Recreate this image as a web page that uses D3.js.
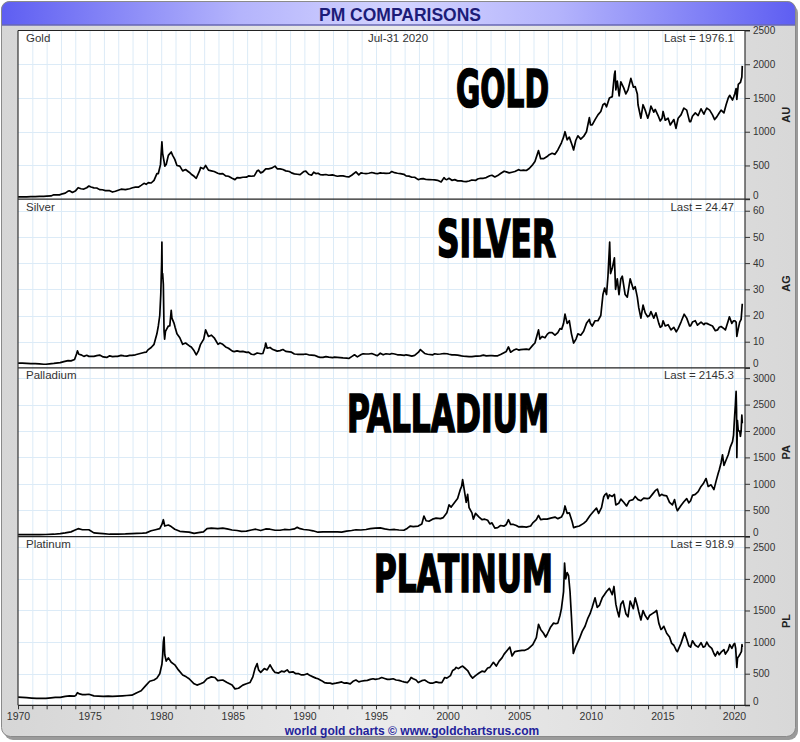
<!DOCTYPE html>
<html><head><meta charset="utf-8">
<script src="https://cdn.jsdelivr.net/npm/d3@7"></script>
<style>html,body{margin:0;padding:0;background:#fff;}svg{display:block;font-family:"Liberation Sans",Arial,sans-serif;}</style>
</head><body>
<svg id="c" width="800" height="742"></svg>
<script>
// ---------- DATA ----------
const titleText = "PM COMPARISONS";
const dateText = "Jul-31 2020";
const footerText = "world gold charts \u00a9 www.goldchartsrus.com";
const seriesNames = ["Gold", "Silver", "Palladium", "Platinum"];
const bigLabels = ["GOLD", "SILVER", "PALLADIUM", "PLATINUM"];
const axisCodes = ["AU", "AG", "PA", "PL"];
const lastValues = ["1976.1", "24.47", "2145.3", "918.9"];
const yMax = [2500, 64.4, 3195, 2669];
const goldTicks = [0, 500, 1000, 1500, 2000, 2500];
const silverTicks = [0, 10, 20, 30, 40, 50, 60];
const palladiumTicks = [0, 500, 1000, 1500, 2000, 2500, 3000];
const platinumTicks = [0, 500, 1000, 1500, 2000, 2500];
const yearLabels = [1970, 1975, 1980, 1985, 1990, 1995, 2000, 2005, 2010, 2015, 2020];

const gold = [[1970.0,35],[1970.3,35.5],[1970.6,35.8],[1970.9,37.4],[1971.2,38.5],[1971.5,40.5],[1971.8,42.5],[1972.0,45],
[1972.3,48],[1972.5,65],[1972.7,66],[1972.9,64],[1973.1,80],[1973.3,90],[1973.5,120],[1973.6,125],[1973.8,100],[1974.0,120],
[1974.2,170],[1974.4,155],[1974.6,150],[1974.8,170],[1974.95,195],[1975.1,180],[1975.3,168],[1975.5,166],[1975.7,142],[1975.9,140],
[1976.1,128],[1976.4,126],[1976.6,106],[1976.8,118],[1977.0,133],[1977.2,148],[1977.5,143],[1977.8,155],[1978.0,170],
[1978.2,180],[1978.4,178],[1978.6,205],[1978.8,235],[1978.95,220],[1979.1,245],[1979.3,240],[1979.5,280],[1979.7,380],[1979.8,380],[1979.95,512],
[1980.05,850],[1980.1,680],[1980.2,560],[1980.25,490],[1980.35,515],[1980.5,650],[1980.7,700],[1980.8,650],[1980.95,590],
[1981.1,500],[1981.3,490],[1981.5,420],[1981.7,440],[1981.95,400],[1982.1,370],[1982.3,340],[1982.45,310],[1982.7,430],[1982.75,470],[1982.95,450],
[1983.1,500],[1983.3,430],[1983.5,420],[1983.7,410],[1983.95,385],[1984.1,375],[1984.3,380],[1984.5,345],[1984.7,340],[1984.95,310],
[1985.15,290],[1985.3,320],[1985.5,315],[1985.7,325],[1985.95,326],[1986.1,345],[1986.3,340],[1986.5,345],[1986.7,420],[1986.8,430],[1986.95,390],
[1987.1,405],[1987.3,450],[1987.5,450],[1987.7,460],[1987.95,490],[1988.1,450],[1988.3,450],[1988.5,440],[1988.7,420],[1988.95,410],
[1989.1,390],[1989.3,375],[1989.5,370],[1989.7,365],[1989.95,410],[1990.1,415],[1990.3,370],[1990.5,355],[1990.65,400],[1990.8,380],[1990.95,385],
[1991.1,365],[1991.3,360],[1991.5,366],[1991.7,355],[1991.95,360],[1992.1,352],[1992.3,340],[1992.5,345],[1992.7,345],[1992.95,333],
[1993.1,330],[1993.3,355],[1993.6,405],[1993.8,360],[1993.95,390],[1994.1,385],[1994.3,380],[1994.5,385],[1994.7,395],[1994.95,383],
[1995.1,378],[1995.3,390],[1995.5,385],[1995.7,383],[1995.95,387],[1996.1,410],[1996.3,393],[1996.5,385],[1996.7,380],[1996.95,369],
[1997.1,345],[1997.3,342],[1997.5,325],[1997.7,325],[1997.95,290],[1998.1,300],[1998.3,305],[1998.5,292],[1998.7,290],[1998.95,288],
[1999.1,285],[1999.3,280],[1999.55,255],[1999.75,320],[1999.85,295],[1999.95,290],[2000.1,310],[2000.3,280],[2000.5,290],[2000.7,272],[2000.95,272],
[2001.1,265],[2001.3,260],[2001.5,270],[2001.7,285],[2001.95,278],[2002.1,300],[2002.3,310],[2002.5,310],[2002.7,320],[2002.95,347],
[2003.1,355],[2003.3,330],[2003.5,350],[2003.7,380],[2003.95,415],[2004.1,405],[2004.3,390],[2004.5,400],[2004.7,410],[2004.95,438],
[2005.1,425],[2005.3,430],[2005.5,425],[2005.7,455],[2005.95,513],[2006.1,560],[2006.35,720],[2006.5,600],[2006.7,600],[2006.95,632],
[2007.1,660],[2007.3,680],[2007.5,665],[2007.7,730],[2007.95,836],[2008.1,920],[2008.2,1000],[2008.35,880],[2008.5,920],[2008.7,800],[2008.8,730],[2008.95,870],
[2009.1,940],[2009.3,890],[2009.5,930],[2009.7,1000],[2009.9,1210],[2009.98,1100],[2010.1,1100],[2010.3,1180],[2010.5,1250],[2010.7,1300],[2010.85,1400],[2010.98,1420],
[2011.1,1370],[2011.3,1500],[2011.5,1520],[2011.65,1850],[2011.7,1900],[2011.75,1620],[2011.85,1750],[2011.98,1530],
[2012.1,1740],[2012.3,1650],[2012.45,1560],[2012.6,1620],[2012.8,1790],[2012.98,1660],
[2013.1,1670],[2013.25,1560],[2013.3,1400],[2013.5,1200],[2013.65,1400],[2013.8,1320],[2013.98,1200],
[2014.1,1280],[2014.2,1380],[2014.4,1290],[2014.5,1330],[2014.7,1240],[2014.85,1160],[2014.98,1200],
[2015.05,1300],[2015.2,1170],[2015.4,1200],[2015.55,1100],[2015.8,1180],[2015.95,1050],
[2016.1,1200],[2016.3,1250],[2016.5,1350],[2016.7,1320],[2016.9,1150],[2016.98,1150],
[2017.1,1230],[2017.3,1280],[2017.5,1240],[2017.7,1340],[2017.9,1260],[2017.98,1300],
[2018.1,1350],[2018.3,1320],[2018.5,1250],[2018.65,1180],[2018.8,1220],[2018.98,1280],
[2019.1,1320],[2019.3,1280],[2019.45,1400],[2019.6,1500],[2019.7,1540],[2019.9,1470],[2019.98,1515],
[2020.05,1560],[2020.15,1640],[2020.2,1480],[2020.3,1700],[2020.45,1730],[2020.55,1810],[2020.58,1976]];

const silver = [[1970.0,1.85],[1970.3,1.8],[1970.6,1.75],[1970.9,1.6],[1971.2,1.6],[1971.5,1.55],[1971.8,1.4],[1971.95,1.4],
[1972.2,1.55],[1972.5,1.7],[1972.8,1.9],[1972.95,2.0],[1973.2,2.4],[1973.5,2.8],[1973.7,2.7],[1973.95,3.2],
[1974.1,5.5],[1974.15,6.5],[1974.25,5.2],[1974.4,5.0],[1974.6,4.4],[1974.8,4.8],[1974.95,4.4],
[1975.1,4.4],[1975.3,4.4],[1975.5,4.7],[1975.7,4.9],[1975.95,4.2],[1976.2,4.0],[1976.4,4.6],[1976.6,4.3],[1976.8,4.4],[1976.95,4.4],
[1977.2,4.8],[1977.4,4.6],[1977.6,4.5],[1977.8,4.8],[1977.95,4.8],[1978.2,5.0],[1978.4,5.3],[1978.6,5.6],[1978.8,5.9],[1978.95,6.0],
[1979.1,7.0],[1979.3,7.8],[1979.5,9.0],[1979.7,13],[1979.8,16],[1979.9,20],[1979.97,28],
[1980.03,40],[1980.05,48],[1980.07,35],[1980.1,36],[1980.15,32],[1980.2,14],[1980.24,11],[1980.3,14],[1980.4,15],[1980.5,16],[1980.6,16],[1980.7,22],[1980.75,19],[1980.9,17],[1980.97,15.5],
[1981.1,13],[1981.3,11.5],[1981.5,9.0],[1981.7,9.5],[1981.97,8.4],[1982.1,8.0],[1982.3,6.5],[1982.45,5.0],[1982.6,6.5],[1982.75,9.0],[1982.97,11.0],
[1983.1,14.5],[1983.3,12],[1983.5,12.5],[1983.7,11.5],[1983.97,9.0],[1984.1,9.5],[1984.3,9.0],[1984.5,8.0],[1984.7,7.5],[1984.97,6.4],
[1985.1,6.2],[1985.3,6.5],[1985.5,6.2],[1985.7,6.3],[1985.97,5.9],[1986.1,6.0],[1986.3,5.2],[1986.5,5.1],[1986.7,5.7],[1986.97,5.4],
[1987.1,5.5],[1987.25,8.0],[1987.3,9.5],[1987.4,7.5],[1987.6,7.8],[1987.8,7.0],[1987.97,6.7],[1988.1,6.4],[1988.3,6.6],[1988.5,7.0],[1988.7,6.3],[1988.97,6.1],
[1989.1,6.0],[1989.3,5.3],[1989.5,5.2],[1989.7,5.2],[1989.97,5.2],[1990.1,5.3],[1990.3,5.0],[1990.5,4.9],[1990.7,4.8],[1990.97,4.2],
[1991.1,4.0],[1991.3,4.0],[1991.5,4.3],[1991.7,4.1],[1991.97,3.9],[1992.1,4.1],[1992.3,4.0],[1992.5,3.9],[1992.7,3.8],[1992.97,3.7],
[1993.1,3.6],[1993.3,4.3],[1993.5,5.0],[1993.7,4.2],[1993.97,5.1],[1994.1,5.4],[1994.3,5.3],[1994.5,5.3],[1994.7,5.5],[1994.97,4.9],
[1995.1,4.7],[1995.3,5.6],[1995.5,5.0],[1995.7,5.4],[1995.97,5.2],[1996.1,5.5],[1996.3,5.3],[1996.5,5.0],[1996.7,5.0],[1996.97,4.8],
[1997.1,5.0],[1997.3,4.8],[1997.5,4.5],[1997.7,4.8],[1997.97,6.0],[1998.1,7.0],[1998.2,6.5],[1998.4,5.5],[1998.6,5.2],[1998.97,5.0],
[1999.1,5.4],[1999.3,5.2],[1999.5,5.3],[1999.75,5.5],[1999.97,5.4],[2000.1,5.2],[2000.3,5.0],[2000.5,5.0],[2000.7,4.9],[2000.97,4.6],
[2001.1,4.5],[2001.3,4.4],[2001.5,4.3],[2001.7,4.3],[2001.97,4.5],[2002.1,4.5],[2002.3,4.6],[2002.5,4.9],[2002.7,4.6],[2002.97,4.7],
[2003.1,4.7],[2003.3,4.6],[2003.5,4.6],[2003.7,5.1],[2003.97,5.9],[2004.1,6.3],[2004.25,8.0],[2004.4,6.0],[2004.6,6.7],[2004.8,7.2],[2004.97,6.8],
[2005.1,7.0],[2005.3,7.1],[2005.5,7.2],[2005.7,7.0],[2005.97,8.8],[2006.1,9.5],[2006.35,14.5],[2006.45,11],[2006.6,12],[2006.8,11.5],[2006.97,12.9],
[2007.1,13.5],[2007.3,13.5],[2007.5,12.5],[2007.7,13.5],[2007.85,15],[2007.97,14.8],
[2008.1,17],[2008.2,20.5],[2008.35,17],[2008.5,18],[2008.65,13],[2008.8,9.5],[2008.97,11],
[2009.1,13],[2009.3,12.5],[2009.5,14],[2009.7,17],[2009.9,18.5],[2009.97,17],
[2010.1,16],[2010.3,18],[2010.5,18],[2010.7,20],[2010.85,28],[2010.97,30.5],
[2011.1,28],[2011.2,35],[2011.32,48],[2011.38,36],[2011.5,38],[2011.65,42],[2011.73,30],[2011.85,34],[2011.97,28],
[2012.1,34],[2012.2,35],[2012.4,28],[2012.55,27],[2012.75,34],[2012.97,30],
[2013.1,31],[2013.25,27],[2013.35,23],[2013.5,19],[2013.65,24],[2013.8,21],[2013.97,19.5],
[2014.1,20],[2014.2,21.5],[2014.4,19],[2014.55,21],[2014.75,17],[2014.85,15.5],[2014.97,16],
[2015.05,18],[2015.2,16],[2015.4,16.5],[2015.6,14.5],[2015.8,15.5],[2015.97,13.8],
[2016.1,15],[2016.3,17.5],[2016.52,20.5],[2016.7,19],[2016.9,16],[2016.97,16],
[2017.1,17.5],[2017.3,18],[2017.45,16.3],[2017.7,17.5],[2017.9,16.5],[2017.97,17],
[2018.1,17],[2018.3,16.5],[2018.5,16],[2018.7,14.2],[2018.85,14.5],[2018.97,15.5],
[2019.1,15.8],[2019.3,15],[2019.4,14.5],[2019.6,18],[2019.68,19.5],[2019.85,17],[2019.97,18],
[2020.05,18],[2020.15,17.5],[2020.2,12],[2020.3,15],[2020.4,17.5],[2020.5,18.5],[2020.55,22],[2020.58,24.5]];

const palladium = [[1970.0,38],[1970.5,36],[1970.95,38],[1971.5,39],[1971.95,40],[1972.5,45],[1972.95,55],
[1973.3,70],[1973.7,90],[1973.95,120],[1974.2,150],[1974.5,130],[1974.95,130],[1975.3,70],[1975.7,60],[1975.95,55],
[1976.4,45],[1976.95,48],[1977.5,50],[1977.95,55],[1978.3,60],[1978.7,65],[1978.95,70],[1979.3,110],[1979.6,130],[1979.9,150],
[1980.05,230],[1980.15,320],[1980.25,200],[1980.5,220],[1980.7,190],[1980.95,140],[1981.3,100],[1981.7,90],[1981.95,85],
[1982.3,60],[1982.6,75],[1982.95,90],[1983.2,150],[1983.5,160],[1983.95,150],[1984.3,160],[1984.6,145],[1984.95,125],
[1985.3,115],[1985.6,100],[1985.95,105],[1986.3,125],[1986.6,140],[1986.95,115],[1987.3,145],[1987.6,140],[1987.95,120],
[1988.3,120],[1988.6,135],[1988.95,130],[1989.3,145],[1989.5,175],[1989.7,150],[1989.95,135],[1990.3,125],[1990.6,110],[1990.95,83],
[1991.3,90],[1991.6,90],[1991.95,90],[1992.3,90],[1992.6,85],[1992.95,105],[1993.3,115],[1993.6,130],[1993.95,125],
[1994.3,135],[1994.6,150],[1994.95,160],[1995.3,165],[1995.6,145],[1995.95,130],[1996.3,135],[1996.6,125],[1996.95,120],
[1997.2,160],[1997.4,200],[1997.6,190],[1997.95,200],[1998.2,240],[1998.35,390],[1998.5,300],[1998.7,290],[1998.95,330],
[1999.2,350],[1999.5,340],[1999.7,360],[1999.95,450],[2000.1,600],[2000.25,560],[2000.5,650],[2000.7,720],[2000.9,900],[2000.98,950],
[2001.05,1080],[2001.1,1000],[2001.3,650],[2001.4,800],[2001.5,550],[2001.7,450],[2001.8,330],[2001.95,440],
[2002.2,370],[2002.4,320],[2002.6,330],[2002.8,310],[2002.95,240],[2003.1,260],[2003.3,160],[2003.5,170],[2003.7,210],[2003.95,200],
[2004.1,230],[2004.25,320],[2004.4,230],[2004.6,230],[2004.8,210],[2004.95,185],[2005.2,190],[2005.5,180],[2005.8,200],[2005.95,260],
[2006.2,320],[2006.35,400],[2006.5,320],[2006.7,330],[2006.95,330],[2007.2,350],[2007.5,370],[2007.7,340],[2007.95,370],
[2008.1,450],[2008.2,580],[2008.35,440],[2008.5,450],[2008.7,280],[2008.8,170],[2008.95,185],
[2009.2,200],[2009.5,250],[2009.7,300],[2009.95,400],[2010.2,480],[2010.4,540],[2010.55,440],[2010.75,550],[2010.9,750],[2010.98,790],
[2011.1,820],[2011.2,720],[2011.3,790],[2011.5,760],[2011.65,800],[2011.75,600],[2011.95,630],
[2012.1,710],[2012.3,650],[2012.5,580],[2012.7,680],[2012.95,700],[2013.1,760],[2013.3,700],[2013.5,680],[2013.7,730],[2013.95,720],
[2014.1,730],[2014.3,800],[2014.5,870],[2014.65,900],[2014.8,770],[2014.95,800],
[2015.1,780],[2015.3,770],[2015.5,650],[2015.7,600],[2015.85,700],[2015.97,550],
[2016.05,490],[2016.3,590],[2016.5,660],[2016.7,720],[2016.85,640],[2016.97,680],
[2017.1,780],[2017.3,800],[2017.5,850],[2017.7,950],[2017.85,1000],[2017.97,1060],
[2018.05,1100],[2018.2,950],[2018.4,980],[2018.6,890],[2018.75,1050],[2018.9,1200],[2018.97,1260],
[2019.1,1400],[2019.2,1550],[2019.3,1350],[2019.45,1450],[2019.6,1550],[2019.75,1700],[2019.9,1800],[2019.97,1920],
[2020.05,2300],[2020.1,2500],[2020.15,2750],[2020.18,2400],[2020.2,1500],[2020.24,2200],[2020.3,2000],[2020.4,2000],[2020.45,1900],[2020.5,2000],[2020.55,2300],[2020.58,2145]];

const platinum = [[1970.0,130],[1970.3,125],[1970.6,120],[1970.95,115],[1971.3,110],[1971.6,108],[1971.95,110],
[1972.3,118],[1972.6,125],[1972.95,125],[1973.3,140],[1973.6,150],[1973.95,145],
[1974.05,160],[1974.15,200],[1974.3,180],[1974.5,170],[1974.7,170],[1974.95,175],[1975.3,150],[1975.6,145],[1975.95,140],
[1976.3,145],[1976.6,140],[1976.95,145],[1977.3,150],[1977.6,155],[1977.95,160],[1978.3,200],[1978.6,230],[1978.95,320],
[1979.2,380],[1979.5,400],[1979.7,430],[1979.9,500],[1980.05,650],[1980.1,780],[1980.15,1000],[1980.2,1080],[1980.25,800],[1980.35,700],[1980.5,750],[1980.7,680],[1980.95,640],
[1981.2,560],[1981.5,480],[1981.75,450],[1981.95,420],[1982.3,340],[1982.5,320],[1982.75,340],[1982.95,360],
[1983.2,420],[1983.5,450],[1983.75,440],[1983.95,390],[1984.3,400],[1984.6,360],[1984.95,320],
[1985.15,260],[1985.4,270],[1985.7,320],[1985.95,340],[1986.2,360],[1986.4,450],[1986.55,580],[1986.7,660],[1986.8,560],[1986.95,520],
[1987.2,580],[1987.4,560],[1987.6,640],[1987.8,560],[1987.95,520],[1988.2,510],[1988.4,540],[1988.6,530],[1988.8,560],[1988.95,520],
[1989.2,530],[1989.4,500],[1989.6,500],[1989.8,480],[1989.95,480],[1990.2,500],[1990.4,470],[1990.6,450],[1990.8,430],[1990.95,420],
[1991.2,390],[1991.4,360],[1991.6,350],[1991.8,350],[1991.95,340],[1992.2,350],[1992.4,360],[1992.6,370],[1992.8,350],[1992.95,355],
[1993.2,340],[1993.4,380],[1993.6,400],[1993.8,370],[1993.95,380],[1994.2,390],[1994.4,395],[1994.6,410],[1994.8,420],[1994.95,410],
[1995.2,420],[1995.4,440],[1995.6,425],[1995.8,410],[1995.95,410],[1996.2,420],[1996.4,400],[1996.6,395],[1996.8,380],[1996.95,370],
[1997.2,360],[1997.35,400],[1997.45,440],[1997.6,420],[1997.8,400],[1997.95,360],[1998.2,390],[1998.4,400],[1998.6,370],[1998.8,350],[1998.95,350],
[1999.2,370],[1999.4,360],[1999.6,360],[1999.8,440],[1999.95,430],[2000.2,470],[2000.35,550],[2000.5,570],[2000.6,600],[2000.75,580],[2000.95,610],
[2001.05,620],[2001.2,590],[2001.4,550],[2001.6,470],[2001.75,430],[2001.95,470],[2002.2,510],[2002.4,540],[2002.6,530],[2002.8,590],[2002.95,600],
[2003.2,680],[2003.4,620],[2003.6,700],[2003.8,750],[2003.95,810],[2004.2,880],[2004.35,920],[2004.5,780],[2004.7,850],[2004.95,860],
[2005.2,870],[2005.4,870],[2005.6,890],[2005.8,930],[2005.95,960],[2006.2,1070],[2006.35,1280],[2006.5,1200],[2006.7,1140],[2006.85,1080],[2006.95,1120],
[2007.2,1240],[2007.4,1300],[2007.55,1290],[2007.7,1300],[2007.85,1420],[2007.95,1530],
[2008.1,1800],[2008.17,2250],[2008.25,2000],[2008.35,2100],[2008.45,2050],[2008.55,1800],[2008.65,1400],[2008.78,820],[2008.95,930],
[2009.2,1050],[2009.4,1170],[2009.6,1250],[2009.8,1380],[2009.95,1450],[2010.1,1550],[2010.3,1700],[2010.45,1550],[2010.6,1580],[2010.8,1700],[2010.95,1750],
[2011.1,1800],[2011.3,1850],[2011.5,1750],[2011.62,1880],[2011.75,1600],[2011.85,1500],[2011.97,1400],
[2012.1,1600],[2012.25,1650],[2012.45,1450],[2012.6,1400],[2012.75,1650],[2012.97,1530],
[2013.1,1700],[2013.25,1580],[2013.35,1480],[2013.5,1350],[2013.65,1500],[2013.8,1420],[2013.97,1360],
[2014.1,1420],[2014.3,1450],[2014.5,1480],[2014.6,1500],[2014.75,1300],[2014.9,1200],[2014.97,1210],
[2015.1,1250],[2015.3,1140],[2015.5,1080],[2015.65,980],[2015.8,950],[2015.97,870],
[2016.05,850],[2016.3,980],[2016.55,1150],[2016.7,1050],[2016.85,940],[2016.97,920],
[2017.1,1020],[2017.3,950],[2017.5,920],[2017.7,990],[2017.85,920],[2017.97,930],
[2018.1,1000],[2018.25,940],[2018.45,900],[2018.6,820],[2018.7,780],[2018.85,850],[2018.97,800],
[2019.1,840],[2019.3,880],[2019.4,810],[2019.6,880],[2019.7,960],[2019.85,900],[2019.97,960],
[2020.05,980],[2020.12,900],[2020.2,600],[2020.25,750],[2020.35,780],[2020.45,820],[2020.52,850],[2020.56,960],[2020.58,919]];

// ---------- LAYOUT ----------
const PX0 = 18, PX1 = 745, PY0 = 30.5, PY1 = 705.3;
const panelH = (PY1 - PY0) / 4;
const allData = [gold, silver, palladium, platinum];
const allTicks = [goldTicks, silverTicks, palladiumTicks, platinumTicks];
const bigPos = [{x:456, y:107, w:93}, {x:437, y:257, w:119}, {x:347, y:432, w:202}, {x:374, y:591.5, w:179}];

const svg = d3.select("#c");
const defs = svg.append("defs");
const fg = defs.append("linearGradient").attr("id","frameG").attr("x1","0").attr("x2","1").attr("y1","0").attr("y2","0");
fg.append("stop").attr("offset","0").attr("stop-color","#d6d6d6");
fg.append("stop").attr("offset","0.5").attr("stop-color","#ebebeb");
fg.append("stop").attr("offset","1").attr("stop-color","#d8d8d8");
const tg = defs.append("linearGradient").attr("id","titleG").attr("x1","0").attr("x2","1").attr("y1","0").attr("y2","0");
tg.append("stop").attr("offset","0").attr("stop-color","#5e5ef2");
tg.append("stop").attr("offset","0.3").attr("stop-color","#b4b4fc");
tg.append("stop").attr("offset","0.5").attr("stop-color","#d4d4ff");
tg.append("stop").attr("offset","0.7").attr("stop-color","#b4b4fc");
tg.append("stop").attr("offset","1").attr("stop-color","#5e5ef2");

// frame + shadow
svg.append("rect").attr("x",4).attr("y",4).attr("width",794).attr("height",736).attr("rx",9).attr("fill","#9a9a9a");
svg.append("rect").attr("x",1.5).attr("y",1.5).attr("width",794).attr("height",735).attr("rx",9)
  .attr("fill","url(#frameG)").attr("stroke","#8a8a8a").attr("stroke-width",1);
// title bar
svg.append("path").attr("d","M1.5,25 L1.5,10.5 Q1.5,1.5 10.5,1.5 L786.5,1.5 Q795.5,1.5 795.5,10.5 L795.5,25 Z")
  .attr("fill","url(#titleG)").attr("stroke","#8a8a8a");
svg.append("line").attr("x1",2).attr("x2",795).attr("y1",25).attr("y2",25).attr("stroke","#5656c8").attr("stroke-width",1.2);
svg.append("text").attr("x",400).attr("y",20.5).attr("text-anchor","middle").attr("font-size",17.5)
  .attr("font-weight","bold").attr("fill","#1c1c78").text(titleText);

// plot bg
svg.append("rect").attr("x",PX0).attr("y",PY0).attr("width",PX1-PX0).attr("height",PY1-PY0).attr("fill","#ffffff");

const x = d3.scaleLinear().domain([1970, 2020.77]).range([PX0, PX1]);
const years = d3.range(1970, 2021);

// vertical grid
svg.append("g").selectAll("line").data(years.slice(1)).join("line")
  .attr("x1",d=>x(d)+0.5).attr("x2",d=>x(d)+0.5).attr("y1",PY0).attr("y2",PY1)
  .attr("stroke","#dcebf7").attr("stroke-width",1);

defs.append("clipPath").attr("id","plotClip").append("rect")
  .attr("x",PX0).attr("y",PY0).attr("width",PX1-PX0).attr("height",PY1-PY0);

allData.forEach((data, i) => {
  const pTop = PY0 + i*panelH, pBot = pTop + panelH;
  const y = d3.scaleLinear().domain([0, yMax[i]]).range([pBot, pTop]);
  const g = svg.append("g");
  g.selectAll("line.h").data(allTicks[i].filter(t=>t>0 && y(t)>pTop+2)).join("line").attr("class","h")
    .attr("x1",PX0).attr("x2",PX1).attr("y1",d=>Math.round(y(d))+0.5).attr("y2",d=>Math.round(y(d))+0.5)
    .attr("stroke","#dcebf7").attr("stroke-width",1);
  const bp = bigPos[i];
  g.append("text").attr("x",bp.x).attr("y",bp.y).attr("textLength",bp.w).attr("lengthAdjust","spacingAndGlyphs")
    .attr("font-family","'DejaVu Sans Condensed','DejaVu Sans',sans-serif").attr("font-weight","bold")
    .attr("font-size",51).attr("fill","#000").attr("stroke","#000").attr("stroke-width",1.6)
    .attr("stroke-linejoin","miter").text(bigLabels[i]);
  g.append("path").datum(data).attr("clip-path","url(#plotClip)")
    .attr("d", d3.line().x(d=>x(d[0])).y(d=>y(d[1])))
    .attr("fill","none").attr("stroke","#000").attr("stroke-width",1.7).attr("stroke-linejoin","round");
  g.append("text").attr("x",26).attr("y",pTop+11.5).attr("font-size",11.5).attr("fill","#333").text(seriesNames[i]);
  g.append("text").attr("x",734).attr("y",pTop+11.5).attr("font-size",11.5).attr("fill","#333")
    .attr("text-anchor","end").text("Last = " + lastValues[i]);
  if (i === 0) g.append("text").attr("x",398).attr("y",pTop+11.5).attr("font-size",11.5).attr("fill","#333")
    .attr("text-anchor","middle").text(dateText);
  const ax = svg.append("g").attr("transform",`translate(${PX1},0)`)
    .call(d3.axisRight(y).tickValues(allTicks[i]).tickSize(5).tickPadding(3).tickFormat(d3.format("d")));
  ax.select(".domain").remove();
  ax.selectAll(".tick line").attr("stroke","#333");
  ax.selectAll(".tick text").attr("font-size",10).attr("fill","#333").attr("font-family","'Liberation Sans',Arial,sans-serif");
  // zero label sits just above the panel border, like the reference
  ax.selectAll(".tick").filter(d => d === 0).select("text").attr("dy","-0.1em");
  svg.append("text").attr("transform",`translate(790,${(pTop+pBot)/2}) rotate(-90)`).attr("text-anchor","middle")
    .attr("font-size",11).attr("font-weight","bold").attr("fill","#222").text(axisCodes[i]);
  svg.append("line").attr("x1",PX0).attr("x2",PX1+5).attr("y1",pTop).attr("y2",pTop).attr("stroke","#222").attr("stroke-width",1.2);
});
svg.append("line").attr("x1",PX0).attr("x2",PX0).attr("y1",PY0).attr("y2",PY1).attr("stroke","#333").attr("stroke-width",1.2);
svg.append("line").attr("x1",PX1).attr("x2",PX1).attr("y1",PY0).attr("y2",PY1).attr("stroke","#333").attr("stroke-width",1.2);
svg.append("line").attr("x1",PX0).attr("x2",PX1+5).attr("y1",PY1).attr("y2",PY1).attr("stroke","#222").attr("stroke-width",1.2);

const xa = svg.append("g").attr("transform",`translate(0,${PY1})`)
  .call(d3.axisBottom(x).tickValues(years).tickSize(4).tickPadding(3)
    .tickFormat(d => yearLabels.includes(d) ? String(d) : ""));
xa.select(".domain").remove();
xa.selectAll(".tick line").attr("stroke","#333");
xa.selectAll(".tick text").attr("font-size",10.5).attr("fill","#333").attr("font-family","'Liberation Sans',Arial,sans-serif");

svg.append("text").attr("x",412).attr("y",734.5).attr("text-anchor","middle").attr("font-size",12)
  .attr("font-weight","bold").attr("fill","#22229a").text(footerText);
</script>
</body></html>
